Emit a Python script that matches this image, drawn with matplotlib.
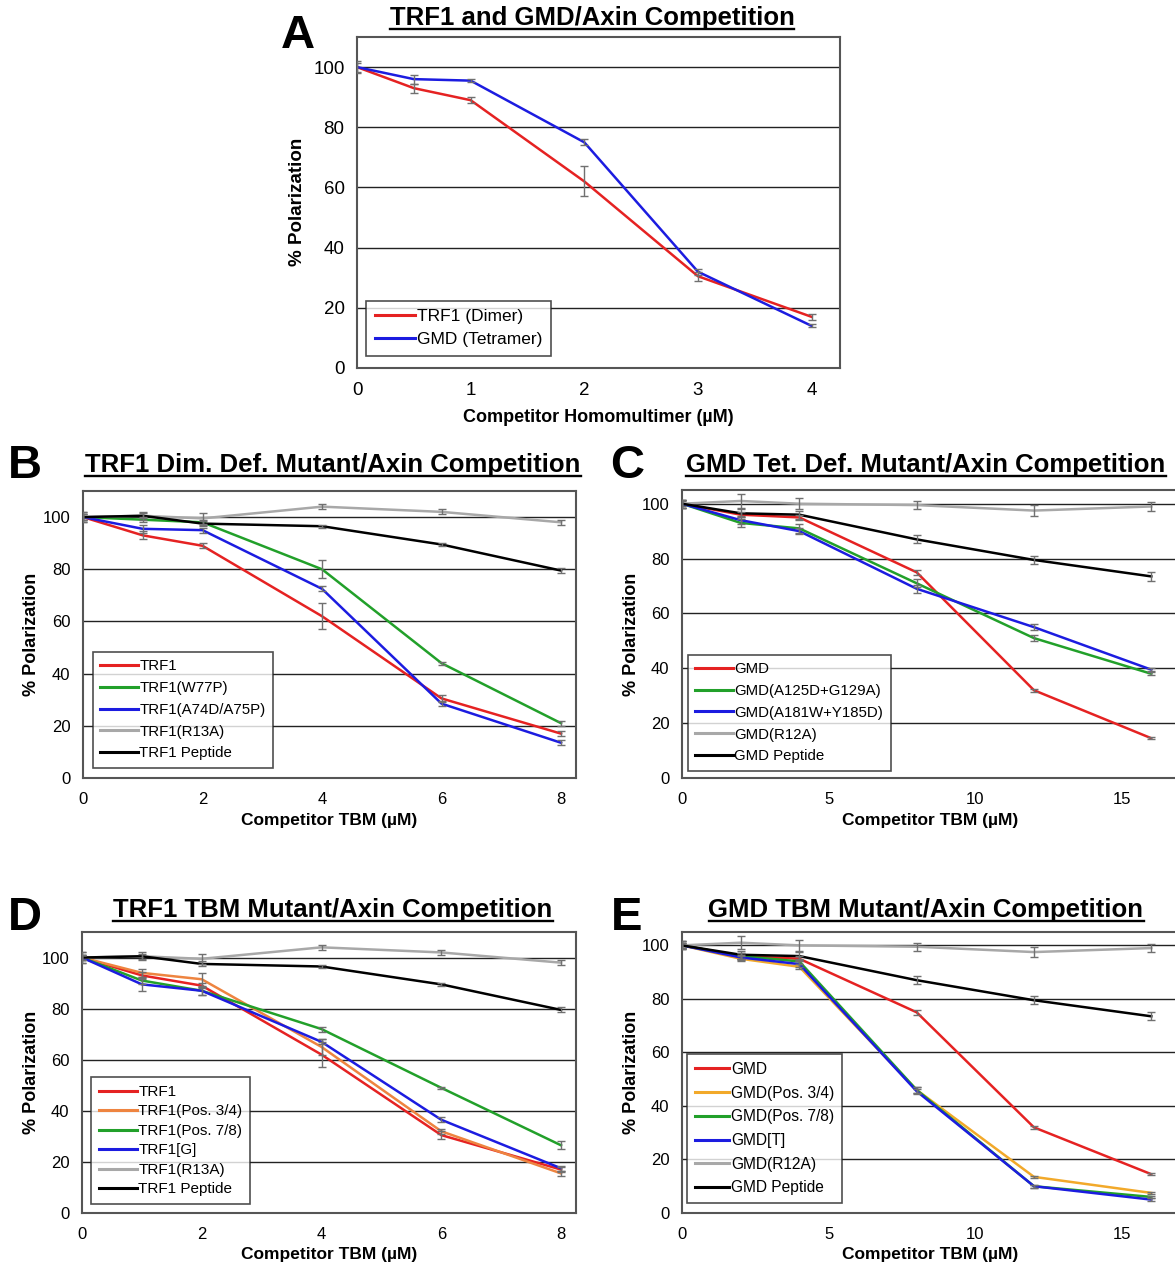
import numpy as np
from matplotlib import pyplot as plt
from matplotlib.lines import Line2D

W, H = 1175, 1266

RED = "#e52222"
GREEN = "#22a02a"
BLUE = "#1c1ce0"
GRAY = "#a8a8a8"
BLACK = "#000000"
ORANGE_D = "#ee8440"
ORANGE_E = "#f2a92a"
ERR = "#707070"

# ---- data ----
x_a = [0, 0.5, 1, 2, 3, 4]
a_trf1 = [100, 93, 89, 62, 30.5, 17]
a_trf1_err = [2, 1.5, 1, 5, 1.5, 1]
a_gmd = [100, 96, 95.5, 75, 32, 14]
a_gmd_err = [1.5, 1.5, 0.5, 1, 1, 0.5]

x_trf = [0, 1, 2, 4, 6, 8]
trf1 = [100, 93, 89, 62, 30.5, 17]
trf1_err = [2, 1.5, 1, 5, 1.5, 1]
trf1_w77p = [100, 99, 98, 80, 44, 21]
trf1_w77p_err = [1, 1, 1, 3.5, 0.5, 1]
trf1_a74d = [100, 95.5, 95, 72.5, 28.5, 13.5]
trf1_a74d_err = [1, 1.5, 1, 1, 1, 1]
trf1_r13a = [100, 100.5, 99.5, 104, 102, 98]
trf1_r13a_err = [2, 1.5, 2, 1, 1, 1]
trf1_pep = [100, 100.5, 97.5, 96.5, 89.5, 79.5]
trf1_pep_err = [1, 1, 1, 0.5, 0.5, 1]
trf1_p34 = [100, 94, 91.5, 65, 32, 15.5]
trf1_p34_err = [1, 1.5, 2.5, 3, 1, 1]
trf1_p78 = [100, 91, 87, 72, 49, 26.5]
trf1_p78_err = [1, 1.5, 1.5, 1, 0.5, 1.5]
trf1_g = [100, 89.5, 87, 67, 36.5, 17.5]
trf1_g_err = [1, 2.5, 1.5, 1, 1, 1]

x_gmd = [0, 2, 4, 8, 12, 16]
gmd = [100, 96, 95, 75, 32, 14.5]
gmd_err = [1.5, 1, 1, 1, 0.5, 0.3]
gmd_a125d = [100, 93, 91, 71, 51, 38]
gmd_a125d_err = [1.5, 1.5, 1.5, 1.5, 1, 0.5]
gmd_a181w = [100, 94, 90, 69, 55, 39.5]
gmd_a181w_err = [1, 1.5, 1, 1.5, 1, 0.5]
gmd_r12a = [100, 101, 100, 99.5, 97.5, 99]
gmd_r12a_err = [1.5, 2.5, 2, 1.5, 2, 1.5]
gmd_pep = [100, 96.5, 96, 87, 79.5, 73.5]
gmd_pep_err = [1.5, 1.5, 1.5, 1.5, 1.5, 1.5]
gmd_p34 = [100, 95, 92, 46, 13.5, 7.5]
gmd_p34_err = [1, 1, 1, 1, 0.5, 0.5]
gmd_p78 = [100, 96, 94, 46, 10, 6]
gmd_p78_err = [1, 1, 1, 1, 0.5, 0.5]
gmd_t = [100, 95.5, 93, 45.5, 10, 5]
gmd_t_err = [1, 1, 1, 1, 0.5, 0.5]

plt.rcParams['font.family'] = ['Liberation Sans', 'DejaVu Sans']

fig = plt.figure(figsize=(W / 100, H / 100), dpi=100)


def box(l, t, r, b):
    # pixel box -> figure fraction rect
    return [l / W, 1 - b / H, (r - l) / W, (b - t) / H]


def fx(x):
    return x / W


def fy(y):
    return 1 - y / H


def panel(rect, xlim, ylim, xticks, series, legend_kw, ticksize=12):
    ax = fig.add_axes(rect)
    for x, y, e, c, lab in series:
        ax.plot(x, y, color=c, lw=1.8, label=lab, zorder=3)
        ax.errorbar(x, y, yerr=e, fmt='none', ecolor=ERR, elinewidth=1,
                    capsize=3, capthick=1, zorder=4)
    ax.set_xlim(*xlim)
    ax.set_ylim(*ylim)
    ax.set_xticks(xticks)
    ax.set_yticks(range(0, 101, 20))
    ax.yaxis.grid(True, color="#222222", lw=1)
    ax.set_axisbelow(True)
    ax.tick_params(axis='y', length=0, pad=9, labelsize=ticksize)
    ax.tick_params(axis='x', length=0, pad=10, labelsize=ticksize)
    for s in ax.spines.values():
        s.set_color("#555555")
        s.set_linewidth(1.5)
    leg = ax.legend(loc='lower left', frameon=True, fancybox=False,
                    borderaxespad=0, handletextpad=0.1, borderpad=0.5,
                    **legend_kw)
    leg.get_frame().set_edgecolor("#222222")
    leg.get_frame().set_linewidth(1.2)
    for line in leg.get_lines():
        line.set_linewidth(2.2)
    return ax


titles = []


def title(text, cx, cy, size=18.5):
    t = fig.text(fx(cx), fy(cy), text, ha='center', va='center',
                 fontsize=size, fontweight='bold')
    titles.append(t)


def letter(text, cx, cy):
    fig.text(fx(cx), fy(cy), text, ha='center', va='center',
             fontsize=34, fontweight='bold')


def ylab(cx, cy, size=13):
    fig.text(fx(cx), fy(cy), "% Polarization", rotation=90, ha='center',
             va='center', fontsize=size, fontweight='bold')


def xlab(text, cx, cy, size=12.5):
    fig.text(fx(cx), fy(cy), text, ha='center', va='center',
             fontsize=size, fontweight='bold')


# ---- A ----
panel(box(357, 37, 840, 368), (0, 4.25), (0, 110), [0, 1, 2, 3, 4],
      [(x_a, a_trf1, a_trf1_err, RED, "TRF1 (Dimer)"),
       (x_a, a_gmd, a_gmd_err, BLUE, "GMD (Tetramer)")],
      dict(fontsize=12.5, bbox_to_anchor=(0.019, 0.036), handlelength=2.3,
           labelspacing=0.45), ticksize=13.5)
title("TRF1 and GMD/Axin Competition", 592, 18)
letter("A", 298, 36)
ylab(298, 202, 13.5)
xlab("Competitor Homomultimer (\u00b5M)", 598, 417, 13)

# ---- B ----
panel(box(83, 491, 576, 778), (0, 8.25), (0, 110), [0, 2, 4, 6, 8],
      [(x_trf, trf1, trf1_err, RED, "TRF1"),
       (x_trf, trf1_w77p, trf1_w77p_err, GREEN, "TRF1(W77P)"),
       (x_trf, trf1_a74d, trf1_a74d_err, BLUE, "TRF1(A74D/A75P)"),
       (x_trf, trf1_r13a, trf1_r13a_err, GRAY, "TRF1(R13A)"),
       (x_trf, trf1_pep, trf1_pep_err, BLACK, "TRF1 Peptide")],
      dict(fontsize=10.8, bbox_to_anchor=(0.02, 0.035), handlelength=2.5,
           labelspacing=0.52))
title("TRF1 Dim. Def. Mutant/Axin Competition", 333, 465)
letter("B", 25, 466)
ylab(32, 634)
xlab("Competitor TBM (\u00b5M)", 329, 820)

# ---- C ----
panel(box(682, 490, 682 + 18 * 29.33, 778), (0, 18), (0, 105), [0, 5, 10, 15],
      [(x_gmd, gmd, gmd_err, RED, "GMD"),
       (x_gmd, gmd_a125d, gmd_a125d_err, GREEN, "GMD(A125D+G129A)"),
       (x_gmd, gmd_a181w, gmd_a181w_err, BLUE, "GMD(A181W+Y185D)"),
       (x_gmd, gmd_r12a, gmd_r12a_err, GRAY, "GMD(R12A)"),
       (x_gmd, gmd_pep, gmd_pep_err, BLACK, "GMD Peptide")],
      dict(fontsize=10.8, bbox_to_anchor=(0.011, 0.025), handlelength=2.5,
           labelspacing=0.52))
title("GMD Tet. Def. Mutant/Axin Competition", 926, 465)
letter("C", 627, 466)
ylab(632, 634)
xlab("Competitor TBM (\u00b5M)", 930, 820)

# ---- D ----
panel(box(82, 932, 576, 1213), (0, 8.25), (0, 110), [0, 2, 4, 6, 8],
      [(x_trf, trf1, trf1_err, RED, "TRF1"),
       (x_trf, trf1_p34, trf1_p34_err, ORANGE_D, "TRF1(Pos. 3/4)"),
       (x_trf, trf1_p78, trf1_p78_err, GREEN, "TRF1(Pos. 7/8)"),
       (x_trf, trf1_g, trf1_g_err, BLUE, "TRF1[G]"),
       (x_trf, trf1_r13a, trf1_r13a_err, GRAY, "TRF1(R13A)"),
       (x_trf, trf1_pep, trf1_pep_err, BLACK, "TRF1 Peptide")],
      dict(fontsize=11, bbox_to_anchor=(0.018, 0.032), handlelength=2.5,
           labelspacing=0.36))
title("TRF1 TBM Mutant/Axin Competition", 333, 910)
letter("D", 25, 918)
ylab(32, 1072)
xlab("Competitor TBM (\u00b5M)", 329, 1255)

# ---- E ----
panel(box(682, 932, 682 + 18 * 29.33, 1213), (0, 18), (0, 105), [0, 5, 10, 15],
      [(x_gmd, gmd, gmd_err, RED, "GMD"),
       (x_gmd, gmd_p34, gmd_p34_err, ORANGE_E, "GMD(Pos. 3/4)"),
       (x_gmd, gmd_p78, gmd_p78_err, GREEN, "GMD(Pos. 7/8)"),
       (x_gmd, gmd_t, gmd_t_err, BLUE, "GMD[T]"),
       (x_gmd, gmd_r12a, gmd_r12a_err, GRAY, "GMD(R12A)"),
       (x_gmd, gmd_pep, gmd_pep_err, BLACK, "GMD Peptide")],
      dict(fontsize=11.2, bbox_to_anchor=(0.01, 0.035), handlelength=2.2,
           labelspacing=0.56))
title("GMD TBM Mutant/Axin Competition", 926, 910)
letter("E", 627, 918)
ylab(632, 1072)
xlab("Competitor TBM (\u00b5M)", 930, 1255)

# underline the titles
fig.canvas.draw()
r = fig.canvas.get_renderer()
for t in titles:
    bb = t.get_window_extent(r)
    yline = (bb.y0 + 1) / H
    fig.add_artist(Line2D([bb.x0 / W, bb.x1 / W], [yline, yline],
                          transform=fig.transFigure, color='black', lw=1.7))

fig.savefig("out.png", dpi=100)
